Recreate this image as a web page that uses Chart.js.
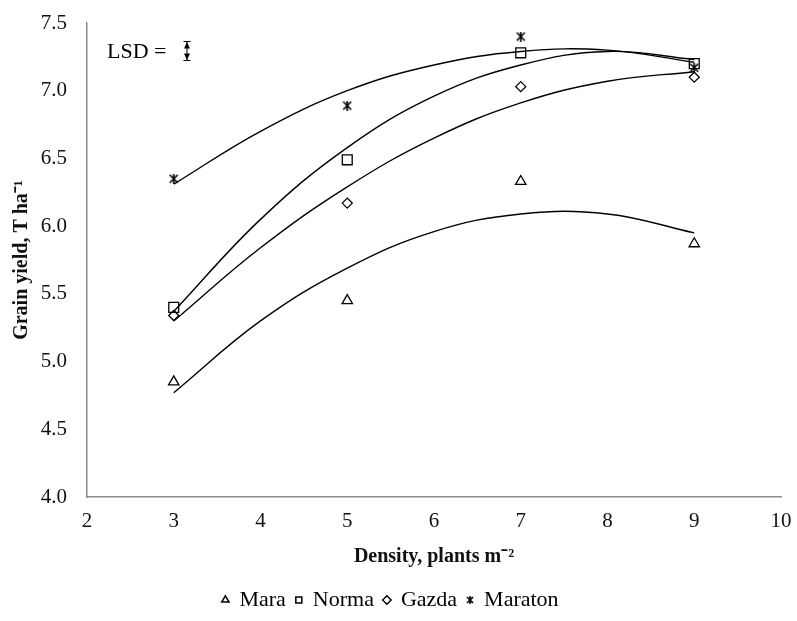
<!DOCTYPE html>
<html>
<head>
<meta charset="utf-8">
<script src="https://cdn.jsdelivr.net/npm/chart.js@4/dist/chart.umd.min.js"></script>
<style>
  body { margin: 0; background: #fff; }
  #wrap { width: 797px; height: 621px; }
</style>
</head>
<body>
<div id="wrap"><canvas id="myChart" width="797" height="621"></canvas></div>
<script>
// measured yields, T ha-1
const densities = [3, 5, 7, 9];
const maraYield = [4.85, 5.45, 6.33, 5.87];
const normaYield = [5.40, 6.49, 7.28, 7.20];
const gazdaYield = [5.34, 6.17, 7.03, 7.10];
const maratonYield = [6.35, 6.89, 7.40, 7.17];

// trend curves at each density
const trendX = [3, 4, 5, 6, 7, 8, 9];
const maraTrend = [4.77, 5.30, 5.69, 5.96, 6.09, 6.09, 5.95];
const normaTrend = [5.37, 6.05, 6.58, 6.96, 7.19, 7.29, 7.23];
const gazdaTrend = [5.30, 5.84, 6.29, 6.65, 6.91, 7.07, 7.14];
const maratonTrend = [6.31, 6.70, 7.00, 7.19, 7.29, 7.30, 7.21];

const seriesNames = ['Mara', 'Norma', 'Gazda', 'Maraton'];
const lsdValue = 0.14;

const fontFam = "'Liberation Serif', 'Times New Roman', serif";

// excel "star" marker: x with a vertical stroke
function starMarker(size) {
  var c = document.createElement('canvas');
  c.width = size; c.height = size;
  var g = c.getContext('2d');
  var m = 1, s = size - 1, h = size / 2;
  g.strokeStyle = '#000';
  g.lineWidth = 1.6;
  g.beginPath();
  g.moveTo(m, m); g.lineTo(s, s);
  g.moveTo(s, m); g.lineTo(m, s);
  g.moveTo(h, 0); g.lineTo(h, size);
  g.stroke();
  return c;
}
const bigMark = starMarker(10);
const smallMark = starMarker(8);

function pts(xs, ys) {
  return xs.map(function(x, i) { return { x: x, y: ys[i] }; });
}

function markerSet(label, ys, style, radius) {
  return {
    label: label,
    data: pts(densities, ys),
    showLine: false,
    pointStyle: style,
    pointRadius: radius,
    pointBorderColor: '#000',
    pointBackgroundColor: 'rgba(0,0,0,0)',
    pointBorderWidth: 1.3,
    borderColor: '#000',
    backgroundColor: 'rgba(0,0,0,0)'
  };
}

function trendSet(ys) {
  return {
    label: 'trend',
    data: pts(trendX, ys),
    showLine: true,
    pointRadius: 0,
    borderColor: '#000',
    borderWidth: 1.4,
    tension: 0.4,
    fill: false
  };
}

const lsdPlugin = {
  id: 'lsd',
  afterDraw(chart) {
    const ctx = chart.ctx;
    const yScale = chart.scales.y;
    const len = Math.abs(yScale.getPixelForValue(7.3) - yScale.getPixelForValue(7.3 + lsdValue));
    ctx.save();
    ctx.fillStyle = '#000';
    ctx.font = "22px " + fontFam;
    ctx.textBaseline = 'middle';
    ctx.fillText('LSD =', 107, 52);
    const ax = 187, top = 51 - len / 2, bot = 51 + len / 2;
    ctx.strokeStyle = '#000';
    ctx.lineWidth = 1;
    ctx.beginPath();
    ctx.moveTo(ax, top); ctx.lineTo(ax, bot);
    ctx.moveTo(ax - 3.5, top); ctx.lineTo(ax + 3.5, top);
    ctx.moveTo(ax - 3.5, bot); ctx.lineTo(ax + 3.5, bot);
    ctx.stroke();
    ctx.beginPath();
    ctx.moveTo(ax, top + 0.5); ctx.lineTo(ax - 3, top + 7); ctx.lineTo(ax + 3, top + 7); ctx.closePath();
    ctx.moveTo(ax, bot - 0.5); ctx.lineTo(ax - 3, bot - 7); ctx.lineTo(ax + 3, bot - 7); ctx.closePath();
    ctx.fill();
    ctx.restore();
  }
};

var ctx = document.getElementById('myChart').getContext('2d');
new Chart(ctx, {
  type: 'scatter',
  data: {
    datasets: [
      markerSet(seriesNames[0], maraYield, 'triangle', 6),
      markerSet(seriesNames[1], normaYield, 'rect', 7),
      markerSet(seriesNames[2], gazdaYield, 'rectRot', 5),
      markerSet(seriesNames[3], maratonYield, bigMark, 5),
      trendSet(maraTrend),
      trendSet(normaTrend),
      trendSet(gazdaTrend),
      trendSet(maratonTrend)
    ]
  },
  options: {
    responsive: false,
    animation: false,
    layout: { padding: { top: 23, right: 16, left: 0, bottom: 0 } },
    plugins: {
      tooltip: { enabled: false },
      legend: {
        position: 'bottom',
        labels: {
          usePointStyle: true,
          boxWidth: 6,
          boxHeight: 6,
          padding: 10,
          color: '#000',
          font: { family: fontFam, size: 22, lineHeight: 1 },
          filter: function(item) { return item.text !== 'trend'; },
          generateLabels: function(chart) {
            const items = Chart.defaults.plugins.legend.labels.generateLabels(chart);
            items.forEach(function(it) {
              if (it.text === 'Maraton') it.pointStyle = smallMark;
              it.fillStyle = 'rgba(0,0,0,0)';
              it.strokeStyle = '#000';
              it.lineWidth = 1.5;
            });
            return items;
          }
        }
      }
    },
    scales: {
      x: {
        type: 'linear',
        min: 2,
        max: 10,
        afterFit: function(scale) { scale.height = 82; scale.paddingRight = 0; scale.paddingLeft = 0; },
        grid: { display: false, drawTicks: false },
        border: { display: true, color: '#8c8c8c', width: 1.5 },
        ticks: { stepSize: 1, color: '#111', padding: 12, font: { family: fontFam, size: 21 } },
        title: {
          display: true,
          text: 'Density, plants m\u207B\u00B2',
          color: '#111',
          font: { family: fontFam, size: 20, weight: 'bold' },
          padding: { top: 4, bottom: 10 }
        }
      },
      y: {
        min: 4,
        max: 7.5,
        afterFit: function(scale) { scale.width = 87; scale.paddingTop = 0; scale.paddingBottom = 0; },
        grid: { display: false, drawTicks: false },
        border: { display: true, color: '#8c8c8c', width: 1.5 },
        ticks: {
          stepSize: 0.5,
          color: '#111',
          padding: 20,
          font: { family: fontFam, size: 21 },
          callback: function(v) { return Number(v).toFixed(1); }
        },
        title: {
          display: true,
          text: 'Grain yield, T ha\u207B\u00B9',
          color: '#111',
          font: { family: fontFam, size: 20, weight: 'bold' },
          padding: { top: 10, bottom: 4 }
        }
      }
    }
  },
  plugins: [lsdPlugin]
});
</script>
</body>
</html>
